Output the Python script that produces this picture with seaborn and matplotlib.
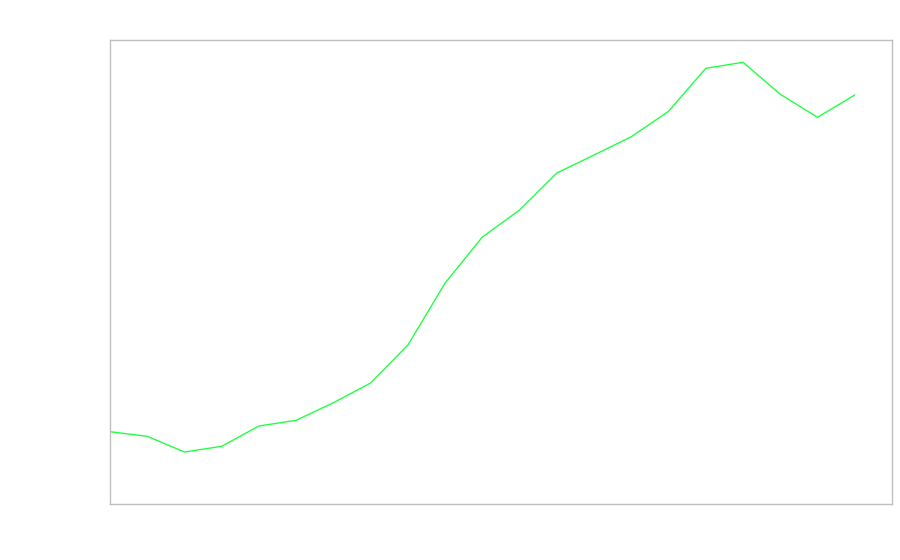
import matplotlib
matplotlib.use("Agg")
import matplotlib.pyplot as plt
import seaborn as sns
import pandas as pd

# values (height above the bottom edge of the axes)
steps = list(range(21))
values = [72.3, 67.7, 52.0, 57.7, 78.0, 83.7, 101.3, 121.0, 159.0, 221.0,
          267.0, 294.0, 331.0, 349.0, 367.3, 392.7, 435.7, 441.7, 409.7, 386.7, 409.0]

df = pd.DataFrame({"step": steps, "value": values})

sns.set_style("white")
fig = plt.figure(figsize=(9, 5.6), dpi=100)
ax = fig.add_axes([110 / 900, 56 / 560, 782 / 900, 464 / 560])

sns.lineplot(data=df, x="step", y="value", color="#22ff44", linewidth=1.0, ax=ax)

ax.set_xlim(0, 21)
ax.set_ylim(0, 464)
ax.set_xticks([])
ax.set_yticks([])
ax.set_xlabel("")
ax.set_ylabel("")
for s in ax.spines.values():
    s.set_color("#c0c0c0")
    s.set_linewidth(1.0)

fig.savefig("out.png", dpi=100)
